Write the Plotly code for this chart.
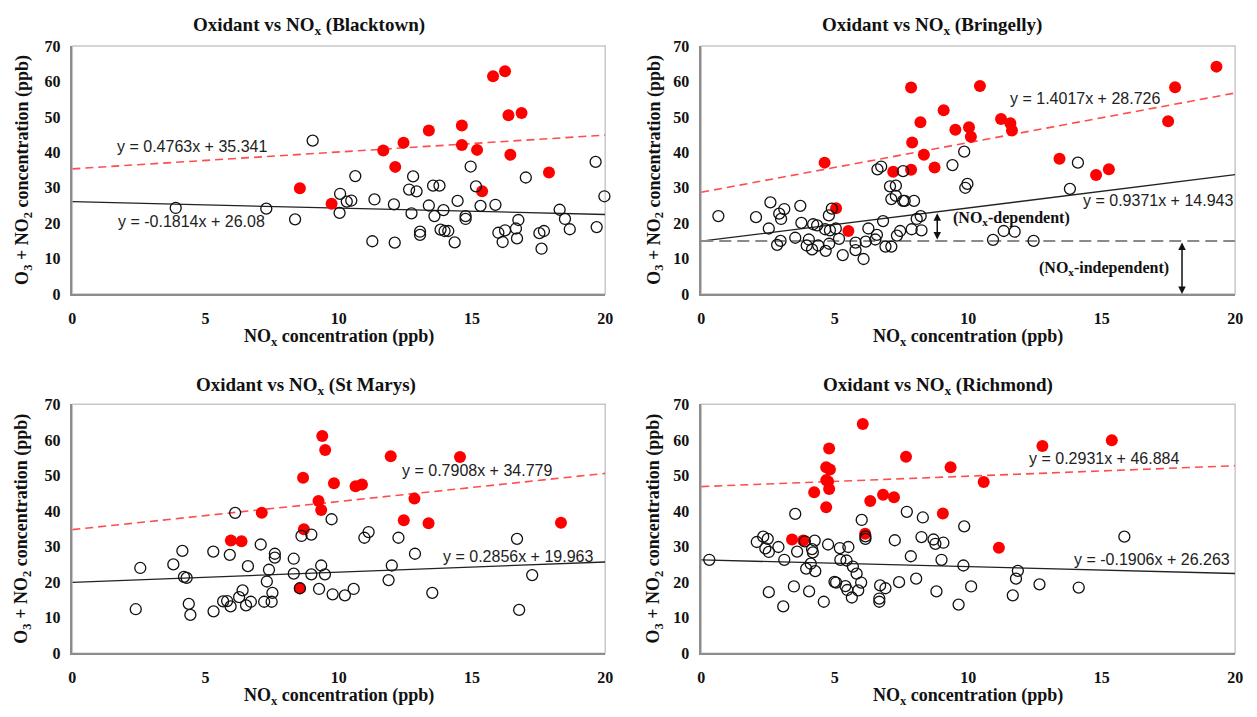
import plotly.graph_objects as go

# ---------------- data ----------------
sites = ["Blacktown", "Bringelly", "St Marys", "Richmond"]

bt_red_x = [8.54, 9.73, 11.67, 12.12, 12.43, 13.38, 14.62, 14.62, 15.19, 15.38, 15.79, 16.24, 16.37, 16.86, 16.44, 17.89]
bt_red_y = [29.9, 25.5, 40.5, 35.9, 42.7, 46.2, 47.6, 42.1, 40.7, 29.0, 61.5, 62.9, 50.5, 51.1, 39.3, 34.3]
bt_blk_x = [3.88, 7.28, 8.36, 9.02, 10.05, 10.03, 10.30, 10.47, 10.62, 11.34, 11.26, 12.07, 12.10, 12.64, 12.79,
            12.92, 12.73, 13.05, 13.05, 13.38, 13.54, 13.78, 13.59, 13.93, 13.82, 13.97, 14.11, 14.35, 14.46, 14.76,
            14.76, 14.95, 15.15, 15.32, 15.88, 15.99, 16.15, 16.24, 16.65, 16.74, 16.69, 17.02, 17.53, 17.70, 17.61,
            18.29, 18.49, 18.67, 19.64, 19.68, 19.97]
bt_blk_y = [24.3, 24.1, 21.1, 43.3, 28.3, 22.9, 26.1, 26.4, 33.3, 26.7, 14.9, 25.3, 14.5, 29.5, 33.2,
            29.0, 22.8, 17.6, 16.7, 25.0, 30.6, 30.6, 22.0, 23.7, 18.2, 17.8, 17.8, 14.6, 26.3, 22.0,
            21.2, 36.0, 30.4, 24.9, 25.2, 17.3, 14.7, 18.0, 18.5, 20.9, 15.7, 32.9, 17.2, 17.8, 12.8,
            23.8, 21.2, 18.3, 37.3, 18.9, 27.6]

bg_red_x = [4.62, 5.05, 5.51, 7.19, 7.86, 7.90, 7.86, 8.21, 8.34, 8.74, 9.08, 9.52, 10.03, 10.10, 10.44, 11.23,
            11.58, 11.64, 13.42, 14.79, 15.27, 17.49, 17.75, 19.30]
bg_red_y = [37.1, 24.2, 17.8, 34.5, 58.3, 42.8, 35.1, 48.5, 39.3, 35.7, 51.9, 46.4, 47.1, 44.4, 58.7, 49.4,
            48.2, 46.2, 38.2, 33.6, 35.2, 48.8, 58.4, 64.2]
bg_blk_x = [0.64, 2.05, 2.59, 2.53, 2.84, 2.97, 2.92, 2.99, 3.11, 3.52, 3.71, 3.75, 4.03, 3.95, 4.15, 4.19,
            4.34, 4.38, 4.64, 4.66, 4.78, 4.89, 4.79, 4.82, 5.04, 5.16, 5.30, 5.78, 5.78, 6.08, 6.16, 6.26,
            6.52, 6.58, 6.60, 6.74, 6.81, 6.90, 7.12, 7.07, 7.29, 7.12, 7.29, 7.33, 7.45, 7.56, 7.56, 7.62,
            7.97, 7.88, 8.07, 8.22, 8.25, 9.41, 9.85, 9.89, 9.97, 10.93, 11.33, 11.74, 12.45, 13.81, 14.11]
bg_blk_y = [22.0, 21.7, 25.9, 18.5, 13.9, 15.0, 22.7, 21.2, 24.0, 15.9, 24.9, 20.1, 15.4, 13.7, 12.6, 19.7,
            19.4, 13.7, 18.3, 12.2, 22.2, 24.1, 14.2, 18.0, 18.5, 15.6, 11.0, 14.5, 12.4, 9.9, 14.8, 18.5,
            15.4, 16.7, 35.2, 36.0, 20.6, 13.4, 13.4, 30.4, 30.6, 26.8, 27.7, 16.5, 17.8, 34.7, 26.3, 26.3,
            26.3, 18.3, 21.2, 22.0, 18.0, 36.4, 40.2, 30.0, 31.1, 15.3, 17.8, 17.6, 15.0, 29.7, 37.1]

sm_red_x = [5.95, 6.35, 7.11, 8.66, 8.69, 8.54, 9.24, 9.34, 9.38, 9.49, 9.82, 10.63, 10.87, 11.95, 12.84, 12.44,
            13.37, 14.55, 18.34]
sm_red_y = [31.7, 31.5, 39.5, 49.4, 34.9, 18.3, 42.8, 40.3, 61.1, 57.2, 47.8, 47.0, 47.5, 55.4, 43.5, 37.4,
            36.6, 55.2, 36.7]
sm_blk_x = [2.38, 2.55, 3.79, 4.13, 4.19, 4.29, 4.37, 4.43, 5.29, 5.30, 5.66, 5.81, 5.94, 5.91, 6.11, 6.26,
            6.39, 6.52, 6.59, 6.70, 7.07, 7.20, 7.30, 7.38, 7.48, 7.51, 7.60, 7.60, 8.31, 8.31, 8.60, 8.97,
            8.97, 9.26, 9.34, 9.48, 9.73, 9.77, 10.23, 10.56, 10.96, 11.12, 11.87, 11.99, 12.24, 12.86, 13.51,
            16.69, 16.77, 17.26, 8.54]
sm_blk_y = [12.4, 24.0, 25.0, 28.8, 21.5, 21.2, 13.9, 10.8, 28.6, 11.8, 14.6, 14.7, 13.2, 27.7, 39.5, 15.8,
            17.7, 13.5, 24.5, 14.5, 30.6, 14.5, 20.2, 23.5, 14.5, 17.0, 28.0, 26.9, 26.6, 22.4, 33.0, 33.4,
            22.2, 18.1, 24.7, 22.2, 37.7, 16.6, 16.3, 18.1, 32.5, 34.1, 20.6, 24.7, 32.5, 28.0, 17.0,
            32.2, 12.2, 22.0, 18.3]

rm_red_x = [3.40, 3.82, 4.23, 4.68, 4.68, 4.82, 4.68, 4.79, 4.79, 4.75, 6.05, 6.14, 6.33, 6.81, 7.22, 7.67,
            9.05, 9.34, 10.58, 11.15, 12.78, 15.38]
rm_red_y = [32.0, 31.7, 45.3, 41.1, 52.3, 51.7, 48.7, 57.6, 46.2, 48.3, 64.5, 33.6, 42.8, 44.6, 43.9, 55.3,
            39.3, 52.3, 48.2, 29.7, 58.3, 59.9]
rm_blk_x = [0.30, 2.08, 2.32, 2.40, 2.49, 2.53, 2.53, 2.89, 3.07, 3.11, 3.52, 3.47, 3.59, 3.93, 4.04, 4.10,
            4.15, 4.18, 4.25, 4.27, 4.59, 4.75, 4.99, 5.05, 5.19, 5.21, 5.40, 5.44, 5.51, 5.47, 5.64, 5.68,
            5.82, 5.88, 5.99, 6.01, 6.15, 6.15, 6.67, 6.67, 6.70, 6.90, 7.25, 7.41, 7.70, 7.85, 8.05, 8.25,
            8.30, 8.70, 8.77, 8.81, 9.07, 9.00, 9.64, 9.82, 9.85, 10.11, 11.67, 11.79, 11.86, 12.67, 14.14,
            15.85, 3.88]
rm_blk_y = [26.3, 31.3, 32.8, 29.5, 32.2, 28.5, 17.2, 29.9, 13.2, 26.3, 39.2, 18.8, 28.6, 23.8, 17.4, 25.2,
            29.3, 28.4, 31.7, 23.1, 14.5, 30.6, 20.1, 19.9, 29.6, 26.3, 18.9, 26.1, 29.9, 17.8, 15.7, 24.4,
            22.4, 17.7, 19.9, 37.5, 32.9, 32.2, 15.4, 14.5, 19.1, 18.3, 31.8, 20.0, 39.8, 27.3, 21.0, 32.7,
            38.2, 32.0, 30.8, 17.4, 31.1, 26.3, 13.7, 24.7, 35.7, 18.8, 16.3, 21.0, 23.2, 19.4, 18.5,
            32.8, 31.5]

red_slope = [0.4763, 1.4017, 0.7908, 0.2931]
red_icpt = [35.341, 28.726, 34.779, 46.884]
blk_slope = [-0.1814, 0.9371, 0.2856, -0.1906]
blk_icpt = [26.08, 14.943, 19.963, 26.263]
# equation label anchor (data coords)
red_lab_x = [4.49, 14.39, 15.17, 15.1]
red_lab_y = [41.6, 55.1, 51.5, 54.9]
blk_lab_x = [4.49, 17.1, 16.74, 16.89]
blk_lab_y = [20.6, 26.5, 27.3, 26.3]

x_ticks = [0, 5, 10, 15, 20]
y_ticks = [0, 10, 20, 30, 40, 50, 60, 70]

red_x = [bt_red_x, bg_red_x, sm_red_x, rm_red_x]
red_y = [bt_red_y, bg_red_y, sm_red_y, rm_red_y]
blk_x = [bt_blk_x, bg_blk_x, sm_blk_x, rm_blk_x]
blk_y = [bt_blk_y, bg_blk_y, sm_blk_y, rm_blk_y]

# ---------------- layout geometry ----------------
W, H = 1257, 717
x_dom = [[69 / W, 607 / W], [704 / W, 1243 / W]]
y_dom = [[(H - 293) / H, (H - 39) / H], [(H - 661) / H, (H - 406) / H]]
title_px = [(308, 18), (937, 18), (305, 387), (943, 387)]
ytitle_px = [19, 657]
xtitle_py = [337, 705]

SERIF = "Liberation Serif, Times New Roman, serif"
SANS = "Liberation Sans, Arial, sans-serif"

fig = go.Figure()
annotations = []
shapes = []

for i in range(4):
    r, c = divmod(i, 2)
    xa = "x" if i == 0 else f"x{i + 1}"
    ya = "y" if i == 0 else f"y{i + 1}"
    xkey = "xaxis" if i == 0 else f"xaxis{i + 1}"
    ykey = "yaxis" if i == 0 else f"yaxis{i + 1}"

    xs = [x_ticks[0], x_ticks[-1]]
    # fitted lines
    fig.add_trace(go.Scatter(x=xs, y=[red_icpt[i] + red_slope[i] * v for v in xs], mode="lines",
                             line=dict(color="#ff4d4d", width=1.6, dash="8px,5px"),
                             xaxis=xa, yaxis=ya, showlegend=False, hoverinfo="skip"))
    fig.add_trace(go.Scatter(x=xs, y=[blk_icpt[i] + blk_slope[i] * v for v in xs], mode="lines",
                             line=dict(color="#222222", width=1.3),
                             xaxis=xa, yaxis=ya, showlegend=False, hoverinfo="skip"))
    if i == 1:
        fig.add_trace(go.Scatter(x=xs, y=[blk_icpt[i], blk_icpt[i]], mode="lines",
                                 line=dict(color="#8a8a8a", width=2, dash="12px,6px"),
                                 xaxis=xa, yaxis=ya, showlegend=False, hoverinfo="skip"))
    # points
    fig.add_trace(go.Scatter(x=red_x[i], y=red_y[i], mode="markers",
                             marker=dict(color="#ff0000", size=12, line=dict(width=0)),
                             xaxis=xa, yaxis=ya, showlegend=False, cliponaxis=False))
    fig.add_trace(go.Scatter(x=blk_x[i], y=blk_y[i], mode="markers",
                             marker=dict(color="rgba(0,0,0,0)", size=11, line=dict(color="#111111", width=1.3)),
                             xaxis=xa, yaxis=ya, showlegend=False, cliponaxis=False))

    axis_common = dict(showgrid=False, zeroline=False, ticks="", showline=True,
                       linecolor="#8c8c8c", linewidth=1.5,
                       tickfont=dict(family=SERIF, size=16, color="#111111", weight="bold"))
    fig.update_layout({
        xkey: dict(domain=x_dom[c], anchor=ya, range=[0, 20], tickvals=x_ticks,
                   ticklabelstandoff=9, **axis_common),
        ykey: dict(domain=y_dom[r], anchor=xa, range=[0, 70], tickvals=y_ticks,
                   ticklabelstandoff=7, **axis_common),
    })
    # box (light top/right edges)
    shapes.append(dict(type="rect", xref=f"{xa} domain", yref=f"{ya} domain", x0=0, x1=1, y0=0, y1=1,
                       line=dict(color="#c8c8c8", width=1.5), layer="below"))

    # titles
    tx, ty = title_px[i]
    annotations.append(dict(text=f"<b>Oxidant vs NO<sub>x</sub> ({sites[i]})</b>", xref="paper", yref="paper",
                            x=tx / W, y=1 - ty / H, xanchor="center", yanchor="middle", showarrow=False,
                            font=dict(family=SERIF, size=19, color="#111111")))
    annotations.append(dict(text="<b>O<sub>3</sub> + NO<sub>2</sub> concentration (ppb)</b>", xref="paper",
                            yref="paper", x=ytitle_px[c] / W, y=sum(y_dom[r]) / 2, textangle=-90,
                            xanchor="center", yanchor="middle", showarrow=False,
                            font=dict(family=SERIF, size=18, color="#111111")))
    annotations.append(dict(text="<b>NO<sub>x</sub> concentration (ppb)</b>", xref="paper", yref="paper",
                            x=sum(x_dom[c]) / 2, y=1 - xtitle_py[r] / H, xanchor="center", yanchor="middle",
                            showarrow=False, font=dict(family=SERIF, size=18, color="#111111")))
    # equations
    annotations.append(dict(text=f"y = {red_slope[i]}x + {red_icpt[i]}", xref=xa, yref=ya,
                            x=red_lab_x[i], y=red_lab_y[i], showarrow=False,
                            font=dict(family=SANS, size=16, color="#222222")))
    annotations.append(dict(text=f"y = {blk_slope[i]}x + {blk_icpt[i]}", xref=xa, yref=ya,
                            x=blk_lab_x[i], y=blk_lab_y[i], showarrow=False,
                            font=dict(family=SANS, size=16, color="#222222")))

# Bringelly arrows and labels
dep_arrow_x = 8.84
indep_arrow_x = 18.01
annotations.append(dict(x=dep_arrow_x, y=blk_slope[1] * dep_arrow_x + blk_icpt[1] - 0.4, ax=dep_arrow_x,
                        ay=blk_icpt[1], xref="x2", yref="y2", axref="x2", ayref="y2", text="",
                        showarrow=True, arrowhead=2, startarrowhead=2, arrowside="end+start",
                        arrowsize=1, arrowwidth=1.5, arrowcolor="#111111"))
annotations.append(dict(x=indep_arrow_x, y=0, ax=indep_arrow_x, ay=blk_icpt[1], xref="x2", yref="y2",
                        axref="x2", ayref="y2", text="", showarrow=True, arrowhead=2, startarrowhead=2,
                        arrowside="end+start", arrowsize=1, arrowwidth=1.5, arrowcolor="#111111"))
annotations.append(dict(text="<b>(NO<sub>x</sub>-dependent)</b>", xref="x2", yref="y2", x=9.37, y=21.2,
                        xanchor="left", showarrow=False, font=dict(family=SERIF, size=16, color="#111111")))
annotations.append(dict(text="<b>(NO<sub>x</sub>-independent)</b>", xref="x2", yref="y2", x=15.1, y=7.1,
                        xanchor="center", showarrow=False, font=dict(family=SERIF, size=16, color="#111111")))

fig.update_layout(width=W, height=H, margin=dict(l=0, r=0, t=0, b=0), autosize=False,
                  paper_bgcolor="white", plot_bgcolor="white", showlegend=False,
                  annotations=annotations, shapes=shapes)

fig.write_html("out.html")
